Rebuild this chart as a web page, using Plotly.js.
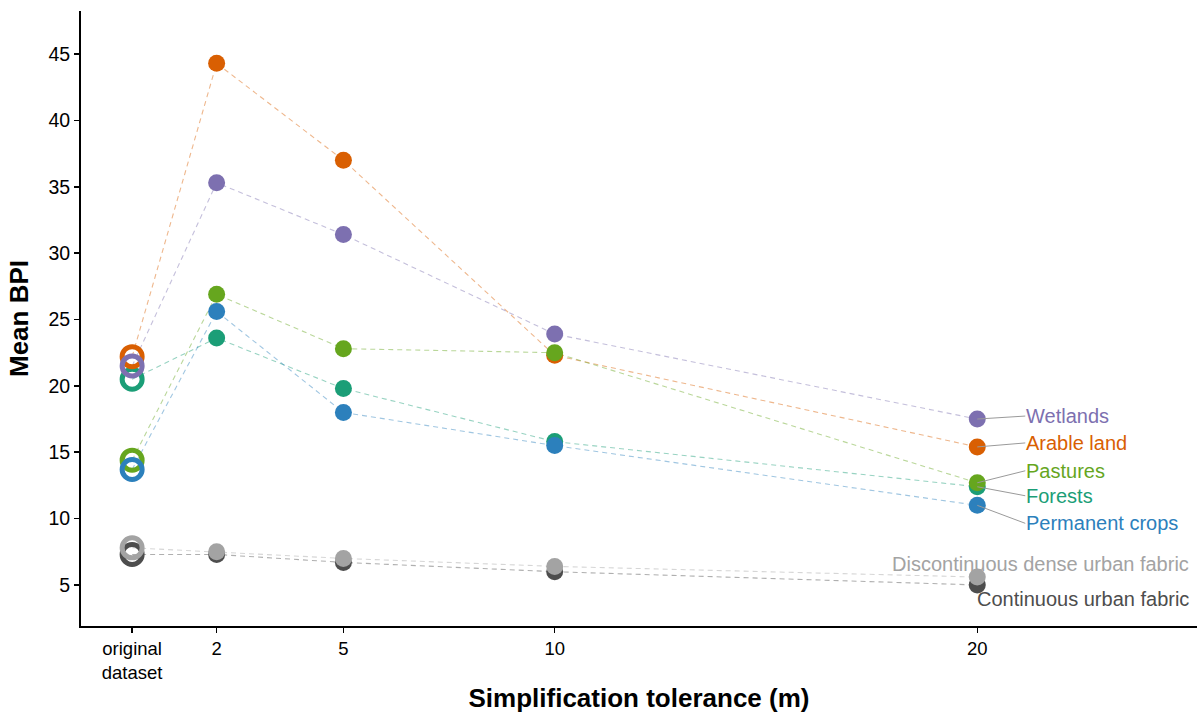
<!DOCTYPE html>
<html>
<head>
<meta charset="utf-8">
<script src="https://cdn.plot.ly/plotly-3.0.1.min.js"></script>
<style>html,body{margin:0;padding:0;background:#fff;}#chart{width:1200px;height:713px;}</style>
</head>
<body>
<div id="chart"></div>
<script>
// Simplification tolerance (m); 0 = original dataset
const tolerance = [0, 2, 5, 10, 20];
const tickLabels = ['original<br>dataset', '2', '5', '10', '20'];

const continuousUrban    = [7.3, 7.3, 6.7, 6.0, 5.0];
const discontinuousUrban = [7.8, 7.5, 7.0, 6.4, 5.6];
const forests            = [20.5, 23.6, 19.8, 15.8, 12.4];
const arableLand         = [22.2, 44.3, 37.0, 22.3, 15.4];
const wetlands           = [21.5, 35.3, 31.4, 23.9, 17.5];
const pastures           = [14.4, 26.9, 22.8, 22.5, 12.7];
const permanentCrops     = [13.7, 25.6, 18.0, 15.5, 11.0];

const seriesNames = ['Continuous urban fabric', 'Discontinuous dense urban fabric', 'Forests',
                     'Arable land', 'Wetlands', 'Pastures', 'Permanent crops'];
const seriesValues = [continuousUrban, discontinuousUrban, forests, arableLand, wetlands, pastures, permanentCrops];
const seriesColors = ['#4d4d4d', '#a3a3a3', '#1b9e77', '#d95f02', '#7d70b0', '#66a61e', '#2c80bc'];

function rgba(hex, a) {
  const r = parseInt(hex.slice(1,3),16), g = parseInt(hex.slice(3,5),16), b = parseInt(hex.slice(5,7),16);
  return `rgba(${r},${g},${b},${a})`;
}

const traces = [];
// dashed connecting lines first
seriesValues.forEach((vals, i) => {
  traces.push({
    x: tolerance, y: vals, type: 'scatter', mode: 'lines',
    line: {color: rgba(seriesColors[i], 0.45), width: 1.1, dash: '5px,4px'},
    hoverinfo: 'skip', showlegend: false
  });
});
// points: open circle for original dataset, filled afterwards
seriesValues.forEach((vals, i) => {
  traces.push({
    x: tolerance, y: vals, type: 'scatter', mode: 'markers', name: seriesNames[i],
    marker: {
      color: seriesColors[i], opacity: 1,
      symbol: tolerance.map(t => t === 0 ? 'circle-open' : 'circle'),
      size: tolerance.map(t => t === 0 ? 20 : 17),
      line: {color: seriesColors[i], width: tolerance.map(t => t === 0 ? 5 : 0)}
    },
    showlegend: false
  });
});

// label offsets (pixels) relative to the last point
const labelFont = 'Liberation Sans, Arial, sans-serif';
const leaderOffsets = {
  'Wetlands': [-3], 'Arable land': [-4], 'Pastures': [-12], 'Forests': [9], 'Permanent crops': [18]
};
const annotations = [];
seriesNames.forEach((name, i) => {
  const vals = seriesValues[i];
  const xLast = tolerance[tolerance.length - 1];
  const yLast = vals[vals.length - 1];
  if (leaderOffsets[name]) {
    annotations.push({
      x: xLast, y: yLast, xref: 'x', yref: 'y', text: name,
      showarrow: true, arrowhead: 0, arrowwidth: 1, arrowcolor: '#9a9a9a',
      ax: 48, ay: leaderOffsets[name][0], xanchor: 'left', yanchor: 'middle',
      standoff: 0, startstandoff: 0, borderpad: 0,
      font: {family: labelFont, size: 20, color: seriesColors[i]}
    });
  } else {
    annotations.push({
      x: xLast, y: yLast, xref: 'x', yref: 'y', text: name, showarrow: false,
      xanchor: 'right', yanchor: 'middle', xshift: 214,
      yshift: name === 'Continuous urban fabric' ? -14 : 13,
      font: {family: labelFont, size: 20, color: seriesColors[i]}
    });
  }
});

const layout = {
  width: 1200, height: 713,
  margin: {l: 81, r: 3, t: 11, b: 87},
  paper_bgcolor: '#fff', plot_bgcolor: '#fff',
  font: {family: labelFont, color: '#000'},
  showlegend: false,
  xaxis: {
    range: [-1.21, 25.2], tickvals: tolerance, ticktext: tickLabels,
    showgrid: false, zeroline: false, showline: true, linecolor: '#000', linewidth: 2,
    ticks: 'outside', ticklen: 5, tickwidth: 1.5, tickcolor: '#000',
    tickfont: {size: 18.5, color: '#000'},
    title: {text: 'Simplification tolerance (m)', font: {size: 26, color: '#000', family: labelFont, weight: 'bold'}, standoff: 10}
  },
  yaxis: {
    range: [1.91, 48.24], tickvals: [5,10,15,20,25,30,35,40,45],
    showgrid: false, zeroline: false, showline: true, linecolor: '#000', linewidth: 2,
    ticks: 'outside', ticklen: 5, tickwidth: 1.5, tickcolor: '#000',
    tickfont: {size: 19.5, color: '#000'},
    title: {text: 'Mean BPI', font: {size: 26, color: '#000', family: labelFont, weight: 'bold'}, standoff: 12}
  },
  annotations: annotations
};

Plotly.newPlot('chart', traces, layout, {displayModeBar: false, staticPlot: true});
</script>
</body>
</html>
